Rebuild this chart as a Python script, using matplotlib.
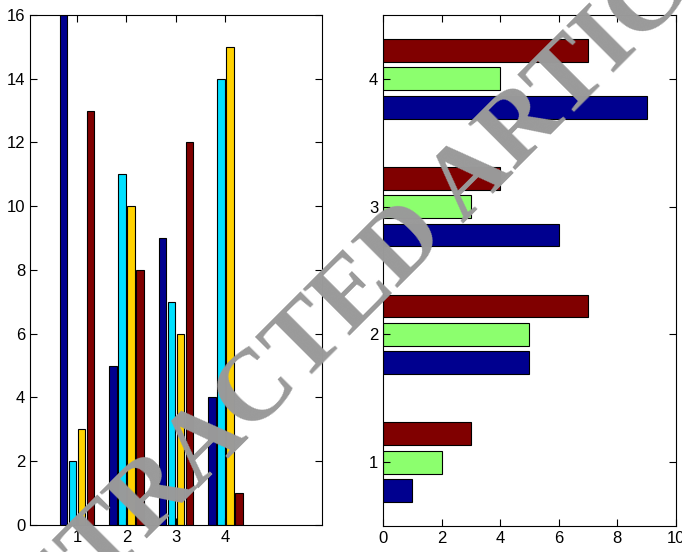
import numpy as np
import matplotlib.pyplot as plt

plt.rcParams['font.family'] = ['Liberation Sans', 'DejaVu Sans']

# Data
groups = [1, 2, 3, 4]
left_series = [
    [16, 5, 9, 4],
    [2, 11, 7, 14],
    [3, 10, 6, 15],
    [13, 8, 12, 1],
]
left_colors = ['#00008F', '#00E0FF', '#FFD200', '#800000']

right_series = [
    [1, 5, 6, 9],
    [2, 5, 3, 4],
    [3, 7, 4, 7],
]
right_colors = ['#00008F', '#8CFF6E', '#800000']

fig = plt.figure(figsize=(6.82, 5.52), dpi=100)

# Left: grouped vertical bars
ax1 = fig.add_axes([0.044, 0.049, 0.428, 0.924])
n = len(left_series)
slot = min(0.8, n / (n + 1.5)) / n
x = np.array(groups)
for i, (vals, c) in enumerate(zip(left_series, left_colors)):
    ax1.bar(x + (i - (n - 1) / 2) * slot, vals, width=slot * 0.8,
            color=c, edgecolor='black', linewidth=0.8)
ax1.set_xlim(0.05, 5.95)
ax1.set_ylim(0, 16)
ax1.set_xticks(groups)
ax1.set_yticks(range(0, 17, 2))

# Right: grouped horizontal bars
ax2 = fig.add_axes([0.5616, 0.047, 0.4294, 0.926])
m = len(right_series)
slot = min(0.8, m / (m + 1.5)) / m
for i, (vals, c) in enumerate(zip(right_series, right_colors)):
    ax2.barh(x + (i - (m - 1) / 2) * slot, vals, height=slot * 0.8,
             color=c, edgecolor='black', linewidth=0.8)
ax2.set_xlim(0, 10)
ax2.set_ylim(0.5, 4.5)
ax2.set_yticks(groups)
ax2.set_xticks(range(0, 11, 2))

for ax in (ax1, ax2):
    ax.tick_params(direction='in', top=True, right=True, labelsize=12,
                   length=5, width=0.8)
    for s in ax.spines.values():
        s.set_linewidth(0.8)

# Watermark
fig.text(-0.001, -0.247, 'RETRACTED ARTICLE', fontsize=73, color='#9A9A9A',
         family='Liberation Serif', fontweight='bold', rotation=45,
         ha='left', va='baseline', rotation_mode='anchor', zorder=10)

fig.savefig('out.png', dpi=100)
